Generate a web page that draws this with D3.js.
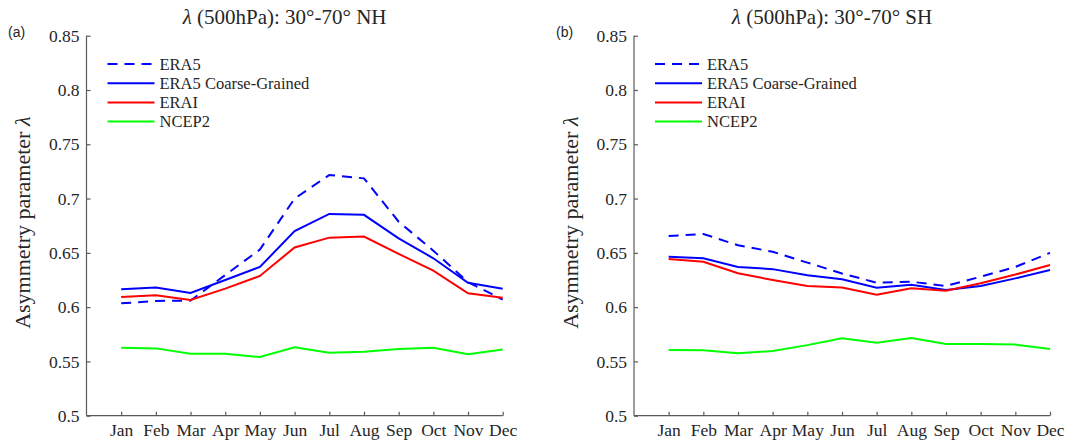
<!DOCTYPE html>
<html>
<head>
<meta charset="utf-8">
<script src="https://cdn.jsdelivr.net/npm/d3@7"></script>
<style>
  body { margin: 0; background: #fff; }
  text { font-family: "Liberation Serif", "DejaVu Serif", serif; fill: #262626; }
  .axis path, .axis line { stroke: #5a5a5a; stroke-width: 1.2; }
  .axis text { font-size: 17.5px; fill: #262626; }
</style>
</head>
<body>
<div id="chart" style="width:1066px;height:441px;"></div>
<script>
const width = 1066;
const height = 441;

// months on the x axis
const months = ["Jan", "Feb", "Mar", "Apr", "May", "Jun", "Jul", "Aug", "Sep", "Oct", "Nov", "Dec"];
const yTicks = [0.5, 0.55, 0.6, 0.65, 0.7, 0.75, 0.8, 0.85];

// Northern hemisphere (panel a)
const nhERA5 = [0.6035, 0.6057, 0.606, 0.6296, 0.653, 0.700, 0.7217, 0.7186, 0.6787, 0.652, 0.623, 0.607];
const nhERA5cg = [0.6164, 0.618, 0.613, 0.625, 0.637, 0.670, 0.6858, 0.685, 0.6634, 0.645, 0.6225, 0.617];
const nhERAI = [0.6093, 0.611, 0.6066, 0.617, 0.6287, 0.655, 0.664, 0.665, 0.649, 0.6336, 0.6127, 0.6087];
const nhNCEP2 = [0.5625, 0.562, 0.557, 0.557, 0.554, 0.563, 0.558, 0.559, 0.5615, 0.5625, 0.5565, 0.561];

// Southern hemisphere (panel b)
const shERA5 = [0.6655, 0.6674, 0.657, 0.651, 0.641, 0.631, 0.6225, 0.6234, 0.6195, 0.628, 0.637, 0.650];
const shERA5cg = [0.6465, 0.645, 0.637, 0.635, 0.6293, 0.6256, 0.6179, 0.6207, 0.6158, 0.6195, 0.6265, 0.6342];
const shERAI = [0.6443, 0.6418, 0.6312, 0.625, 0.6195, 0.618, 0.6115, 0.6173, 0.6151, 0.622, 0.630, 0.6388];
const shNCEP2 = [0.5605, 0.5602, 0.5575, 0.5596, 0.565, 0.5713, 0.5672, 0.5716, 0.566, 0.566, 0.5655, 0.5614];

const seriesNames = ["ERA5", "ERA5 Coarse-Grained", "ERAI", "NCEP2"];
const seriesColors = ["#0000ff", "#0000ff", "#ff0000", "#00ff00"];
const seriesDash = ["10,7", null, null, null];

const svg = d3.select("#chart")
    .append("svg")
    .attr("width", width)
    .attr("height", height);

const panels = [
    { left: 86.5, right: 502.7, tag: "(a)", tagX: 8, title: "NH", labelX: 30, values: [nhERA5, nhERA5cg, nhERAI, nhNCEP2] },
    { left: 634, right: 1050, tag: "(b)", tagX: 556, title: "SH", labelX: 578, values: [shERA5, shERA5cg, shERAI, shNCEP2] }
];

const plotTop = 35.7, plotBottom = 415.7;

panels.forEach(function (p) {
    const xScale = d3.scaleLinear().domain([0, 12]).range([p.left, p.right]);
    const yScale = d3.scaleLinear().domain([0.5, 0.85]).range([plotBottom, plotTop]);

    const g = svg.append("g");

    // axes (ticks point inwards like matlab)
    g.append("g")
        .attr("class", "axis")
        .attr("transform", `translate(0,${plotBottom})`)
        .call(d3.axisBottom(xScale)
            .tickValues(d3.range(1, 13))
            .tickSize(-4)
            .tickPadding(8)
            .tickFormat(d => months[d - 1]))
        .call(ax => ax.select(".domain").attr("d", `M${p.left},0H${p.right}`));

    g.append("g")
        .attr("class", "axis")
        .attr("transform", `translate(${p.left},0)`)
        .call(d3.axisLeft(yScale)
            .tickValues(yTicks)
            .tickSize(-4)
            .tickPadding(7)
            .tickFormat(d => d3.format("")(+d.toFixed(2))))
        .call(ax => ax.select(".domain").attr("d", `M0,${plotTop}V${plotBottom}`));

    // lines
    const line = d3.line()
        .x((d, i) => xScale(i + 1))
        .y(d => yScale(d));

    p.values.forEach(function (vals, k) {
        g.append("path")
            .datum(vals)
            .attr("fill", "none")
            .attr("stroke", seriesColors[k])
            .attr("stroke-width", 2)
            .attr("stroke-dasharray", seriesDash[k])
            .attr("d", line);
    });

    // legend
    const lx = p.left + 21;
    seriesNames.forEach(function (name, k) {
        const ly = 64 + k * 19.2;
        g.append("line")
            .attr("x1", lx).attr("x2", lx + 47)
            .attr("y1", ly).attr("y2", ly)
            .attr("stroke", seriesColors[k])
            .attr("stroke-width", 2)
            .attr("stroke-dasharray", seriesDash[k]);
        g.append("text")
            .attr("x", lx + 52)
            .attr("y", ly + 5.5)
            .style("font-size", "16.5px")
            .text(name);
    });

    // title
    const title = g.append("text")
        .attr("x", (p.left + p.right) / 2 - 10)
        .attr("y", 24)
        .attr("text-anchor", "middle")
        .style("font-size", "21px");
    title.append("tspan").style("font-style", "italic").text("λ");
    title.append("tspan").text(` (500hPa): 30°-70° ${p.title}`);

    // y label
    const yl = g.append("text")
        .attr("transform", `translate(${p.labelX},${(plotTop + plotBottom) / 2 - 3}) rotate(-90)`)
        .attr("text-anchor", "middle")
        .style("font-size", "22px");
    yl.append("tspan").text("Asymmetry parameter ");
    yl.append("tspan").style("font-style", "italic").text("λ");

    // panel tag
    g.append("text")
        .attr("x", p.tagX)
        .attr("y", 37)
        .style("font-family", "'Liberation Sans', Arial, sans-serif")
        .style("font-size", "14px")
        .text(p.tag);
});
</script>
</body>
</html>
